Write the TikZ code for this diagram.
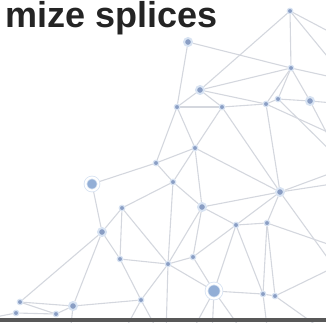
\documentclass[tikz,border=0pt]{standalone}
\usepackage{fontspec}
\setmainfont{Liberation Sans}
\usetikzlibrary{backgrounds}

\definecolor{edgegray}{RGB}{212,215,222}
\definecolor{dotblue}{RGB}{138,158,196}
\definecolor{hubblue}{RGB}{146,174,214}
\definecolor{haloblue}{RGB}{216,227,242}
\definecolor{titlegray}{RGB}{36,36,36}
\definecolor{bargray}{RGB}{88,88,88}

\begin{document}
\begin{tikzpicture}[x=1pt, y=-1pt]
	% Define styles
	\tikzset{
		dot/.style={circle, fill=dotblue, draw=haloblue, line width=1.2pt, inner sep=0pt, minimum size=5.5pt},
		bigdot/.style={circle, fill=dotblue, draw=haloblue, line width=2pt, inner sep=0pt, minimum size=8pt},
		hub/.style={circle, fill=hubblue, draw=haloblue, line width=0.8pt, double=white, double distance=2pt, inner sep=0pt, minimum size=15pt},
		link/.style={draw=edgegray, line width=1.1pt}
	}
	\useasboundingbox (0,0) rectangle (326,322);
	\clip (0,0) rectangle (326,322);
	
	% Title
	\node[anchor=base east, text=titlegray, inner sep=0pt, font=\fontsize{36}{42}\selectfont\bfseries] (title) at (218,27.5) {mize splices};
	
	% Nodes
	\node[dot] (a) at (290,11) {};
	\node[bigdot] (b) at (188,42) {};
	\node[dot] (c) at (291,68) {};
	\node[bigdot] (d) at (200,90) {};
	\node[dot] (e) at (177,107) {};
	\node[dot] (f) at (222,107) {};
	\node[dot] (g) at (266,104) {};
	\node[dot] (h) at (278,99) {};
	\node[bigdot] (i) at (310,101) {};
	\node[dot] (j) at (195,148) {};
	\node[dot] (k) at (156,163) {};
	\node[dot] (l) at (173,182) {};
	\node[hub, minimum size=13pt] (m) at (92,184) {};
	\node[dot] (n) at (122,208) {};
	\node[bigdot] (o) at (202,207) {};
	\node[bigdot] (p) at (280,192) {};
	\node[bigdot] (q) at (102,232) {};
	\node[dot] (r) at (236,225) {};
	\node[dot] (s) at (267,223) {};
	\node[dot] (t) at (120,259) {};
	\node[dot] (u) at (168,264) {};
	\node[dot] (v) at (193,257) {};
	\node[hub] (w) at (214,291) {};
	\node[dot] (x) at (141,300) {};
	\node[bigdot] (y) at (73,306) {};
	\node[dot] (z1) at (263,294) {};
	\node[dot] (z2) at (275,296) {};
	\node[dot] (aa) at (20,302) {};
	\node[dot] (ab) at (16,313) {};
	\node[dot] (ac) at (56,314) {};
	
	% Loose ends beyond the frame
	\coordinate (out1) at (345,78);
	\coordinate (out2) at (345,40);
	\coordinate (out3) at (345,80);
	\coordinate (out4) at (345,140);
	\coordinate (out5) at (345,165);
	\coordinate (out6) at (345,104);
	\coordinate (out7) at (345,182);
	\coordinate (out8) at (345,168);
	\coordinate (out9) at (345,282);
	\coordinate (out10) at (345,250);
	\coordinate (out11) at (345,262);
	\coordinate (out12) at (330,335);
	\coordinate (out13) at (268,335);
	\coordinate (out14) at (212,335);
	\coordinate (out15) at (190,335);
	\coordinate (out16) at (245,335);
	\coordinate (out17) at (166,335);
	\coordinate (out18) at (122,335);
	\coordinate (out19) at (160,335);
	\coordinate (out20) at (70,335);
	\coordinate (out21) at (-10,318);
	
	% Edges
	\begin{pgfonlayer}{background}
	\draw[link] (a) -- (d);
	\draw[link] (a) -- (c);
	\draw[link] (a) -- (out1);
	\draw[link] (a) -- (out2);
	\draw[link] (b) -- (c);
	\draw[link] (b) -- (e);
	\draw[link] (c) -- (d);
	\draw[link] (c) -- (g);
	\draw[link] (c) -- (h);
	\draw[link] (c) -- (i);
	\draw[link] (c) -- (out3);
	\draw[link] (d) -- (e);
	\draw[link] (d) -- (f);
	\draw[link] (d) -- (g);
	\draw[link] (e) -- (f);
	\draw[link] (e) -- (j);
	\draw[link] (e) -- (k);
	\draw[link] (f) -- (g);
	\draw[link] (f) -- (j);
	\draw[link] (f) -- (p);
	\draw[link] (g) -- (h);
	\draw[link] (h) -- (i);
	\draw[link] (g) -- (p);
	\draw[link] (g) -- (out4);
	\draw[link] (h) -- (out5);
	\draw[link] (i) -- (out6);
	\draw[link] (i) -- (out8);
	\draw[link] (j) -- (k);
	\draw[link] (j) -- (l);
	\draw[link] (j) -- (o);
	\draw[link] (j) -- (p);
	\draw[link] (k) -- (l);
	\draw[link] (k) -- (m);
	\draw[link] (l) -- (n);
	\draw[link] (l) -- (o);
	\draw[link] (l) -- (u);
	\draw[link] (m) -- (q);
	\draw[link] (n) -- (q);
	\draw[link] (n) -- (t);
	\draw[link] (n) -- (u);
	\draw[link] (o) -- (p);
	\draw[link] (o) -- (r);
	\draw[link] (o) -- (v);
	\draw[link] (o) -- (u);
	\draw[link] (p) -- (r);
	\draw[link] (p) -- (s);
	\draw[link] (p) -- (out7);
	\draw[link] (p) -- (out8);
	\draw[link] (p) -- (out9);
	\draw[link] (r) -- (s);
	\draw[link] (r) -- (w);
	\draw[link] (r) -- (z1);
	\draw[link] (r) -- (v);
	\draw[link] (s) -- (z1);
	\draw[link] (s) -- (z2);
	\draw[link] (s) -- (out10);
	\draw[link] (q) -- (t);
	\draw[link] (q) -- (aa);
	\draw[link] (q) -- (y);
	\draw[link] (t) -- (u);
	\draw[link] (t) -- (x);
	\draw[link] (u) -- (v);
	\draw[link] (u) -- (w);
	\draw[link] (u) -- (x);
	\draw[link] (u) -- (out17);
	\draw[link] (v) -- (w);
	\draw[link] (w) -- (z1);
	\draw[link] (w) -- (out14);
	\draw[link] (w) -- (out15);
	\draw[link] (w) -- (out16);
	\draw[link] (z1) -- (z2);
	\draw[link] (z1) -- (out13);
	\draw[link] (z2) -- (out11);
	\draw[link] (z2) -- (out12);
	\draw[link] (x) -- (y);
	\draw[link] (x) -- (out18);
	\draw[link] (x) -- (out19);
	\draw[link] (y) -- (aa);
	\draw[link] (y) -- (ac);
	\draw[link] (y) -- (out20);
	\draw[link] (aa) -- (ac);
	\draw[link] (ab) -- (ac);
	\draw[link] (ab) -- (out21);
	\end{pgfonlayer}
	
	% Bottom rule
	\fill[bargray] (0,318) rectangle (326,322);
\end{tikzpicture}
\end{document}
